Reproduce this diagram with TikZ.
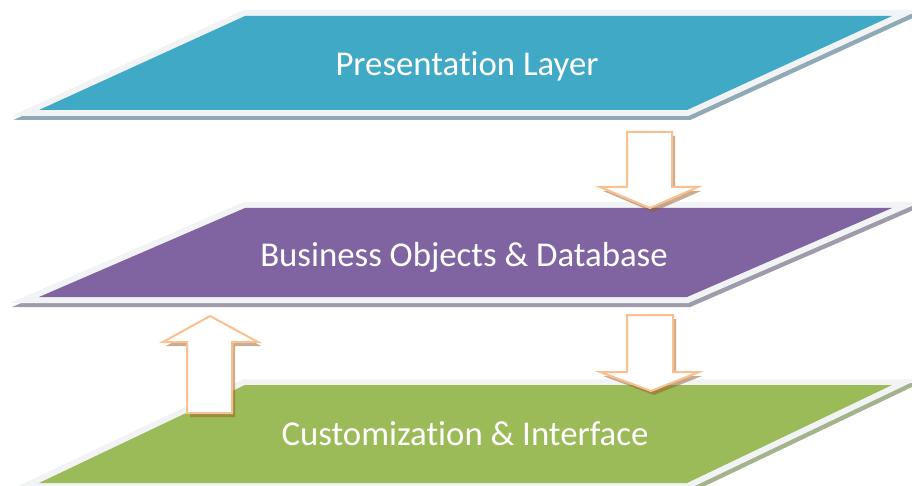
\documentclass[tikz,border=0pt]{standalone}
\usepackage{fontspec}
\setmainfont[Ligatures=NoCommon]{Carlito}

\definecolor{frame}{HTML}{F2F3F5}
\definecolor{aquafill}{HTML}{40AAC6}
\definecolor{aquashade}{HTML}{8FAAB6}
\definecolor{purplefill}{HTML}{8064A2}
\definecolor{purpleshade}{HTML}{A09BAB}
\definecolor{greenfill}{HTML}{9BBB59}
\definecolor{greenshade}{HTML}{A4B28D}
\definecolor{arrowline}{HTML}{FAC08F}
\definecolor{arrowshade}{HTML}{965A28}

% Draws one slanted layer: top y, bottom y, fill colour, shadow colour
\newcommand\layerplate[4]{%
  \filldraw[platebase, shift={(2,4)}, draw=#4, fill=#4]
    (245,#1) -- (892,#1) -- (687,#2) -- (39,#2) -- cycle;
  \filldraw[platebase, draw=frame, fill=frame]
    (245,#1) -- (892,#1) -- (687,#2) -- (39,#2) -- cycle;
  \fill[#3] (245,#1) -- (892,#1) -- (687,#2) -- (39,#2) -- cycle;
}

\begin{document}
\begin{tikzpicture}[x=1pt, y=-1pt,
  platebase/.style={line width=12pt, line join=miter},
  layertext/.style={text=white, font=\fontsize{34.8}{40}\selectfont, anchor=base, inner sep=0pt},
  blockbody/.style={draw=arrowline, fill=white, line width=2pt, line join=miter},
  blockshade/.style={fill=arrowshade, fill opacity=0.5}]
\useasboundingbox (0,0) rectangle (912,486);

% the three layers
\layerplate{16}{110}{aquafill}{aquashade}
\layerplate{208}{297}{purplefill}{purpleshade}
\layerplate{385}{483}{greenfill}{greenshade}

% block arrow from the presentation layer down to the business layer
\fill[blockshade, shift={(3,4)}]
  (627,132) -- (672,132) -- (672,187) -- (698,187) -- (650,208) -- (600,187) -- (627,187) -- cycle;
\draw[blockbody]
  (627,132) -- (672,132) -- (672,187) -- (698,187) -- (650,208) -- (600,187) -- (627,187) -- cycle;

% block arrow from the business layer down to the customization layer
\fill[blockshade, shift={(3,4)}]
  (627,315) -- (673,315) -- (673,372) -- (699,372) -- (651,391) -- (600,372) -- (627,372) -- cycle;
\draw[blockbody]
  (627,315) -- (673,315) -- (673,372) -- (699,372) -- (651,391) -- (600,372) -- (627,372) -- cycle;

% block arrow from the customization layer up to the business layer
\fill[blockshade, shift={(3,4)}]
  (187,413) -- (232,413) -- (232,342) -- (258,342) -- (210,316) -- (163,342) -- (187,342) -- cycle;
\draw[blockbody]
  (187,413) -- (232,413) -- (232,342) -- (258,342) -- (210,316) -- (163,342) -- (187,342) -- cycle;

% layer captions
\node[layertext] (presentation) at (467,76) {Presentation Layer};
\node[layertext] (business) at (464,266) {Business Objects \& Database};
\node[layertext] (customization) at (465,445) {Customization \& Interface};
\end{tikzpicture}
\end{document}
